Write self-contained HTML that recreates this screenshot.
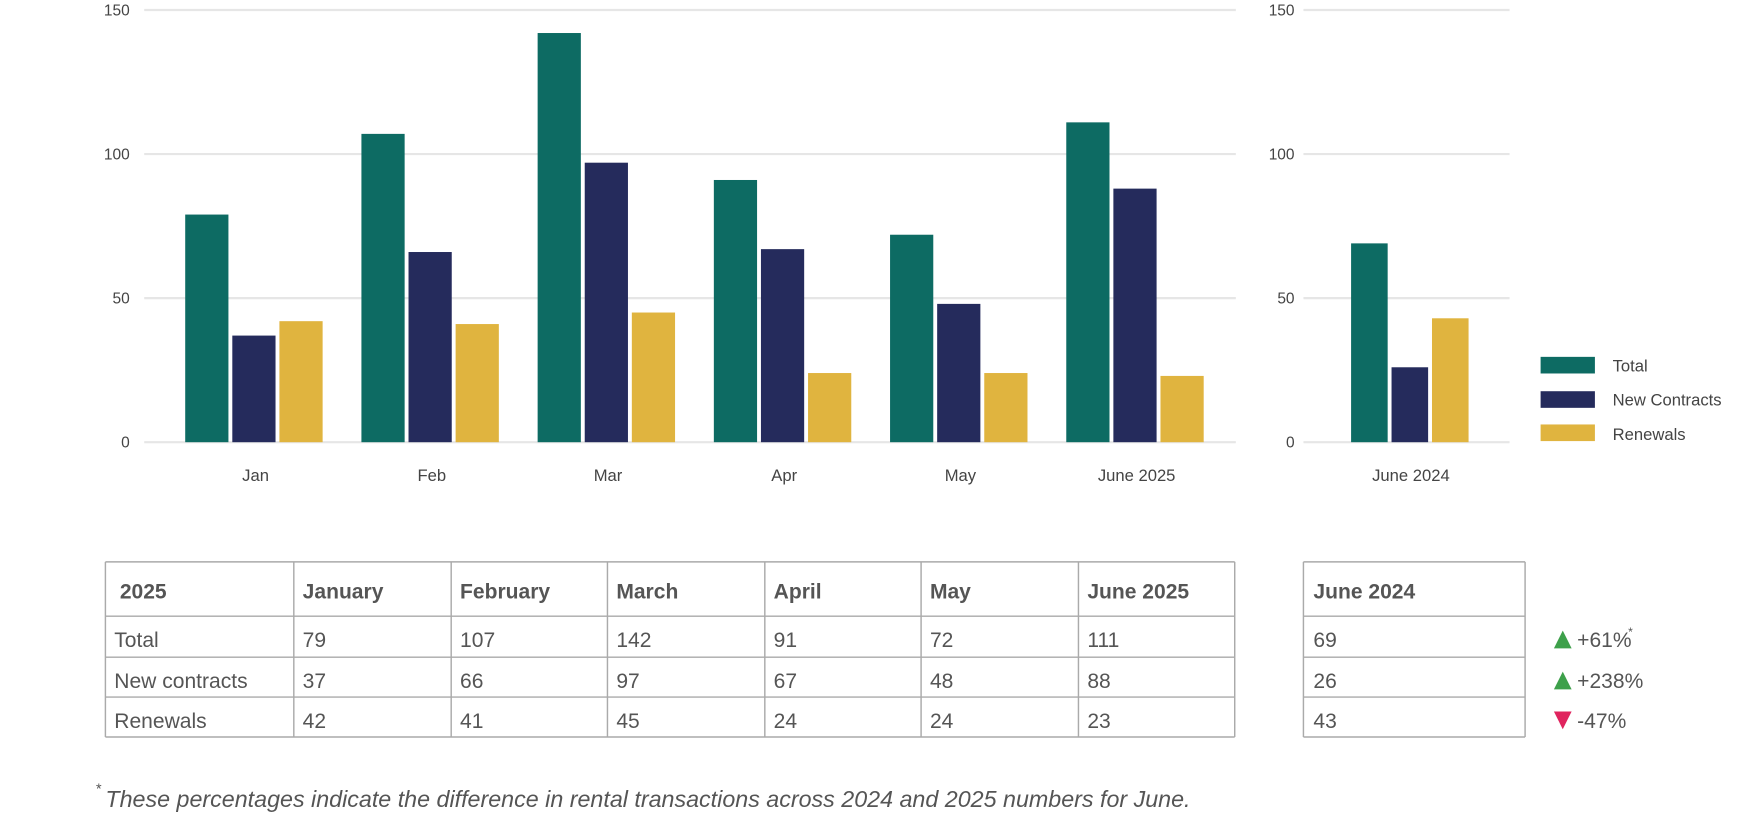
<!DOCTYPE html>
<html><head><meta charset="utf-8"><style>
html,body{margin:0;padding:0;background:#fff;overflow:hidden}
svg{display:block;font-family:"Liberation Sans",sans-serif}
</style></head><body>
<svg id="c" width="1738" height="819" viewBox="0 0 1568 739">
<g id="grid"></g><g id="bars"></g><g id="labels"></g>
<g>
<rect x="1390" y="322" width="49" height="15" fill="#0d6b63"/>
<text x="1455" y="335" font-size="15" fill="#444">Total</text>
<rect x="1390" y="353" width="49" height="15" fill="#252b5c"/>
<text x="1455" y="366" font-size="15" fill="#444">New Contracts</text>
<rect x="1390" y="383" width="49" height="15" fill="#e0b43f"/>
<text x="1455" y="397" font-size="15" fill="#444">Renewals</text>
</g>
<g id="table"></g>
<text x="86" y="716" font-size="13" fill="#555" font-style="italic">*</text>
<text x="95" y="728" font-size="21" fill="#555" font-style="italic">These percentages indicate the difference in rental transactions across 2024 and 2025 numbers for June.</text>
</svg>
<script>
const categories=["Jan","Feb","Mar","Apr","May","June 2025"];
const total=[79,107,142,91,72,111];
const newContracts=[37,66,97,67,48,88];
const renewals=[42,41,45,24,24,23];
const cat2024=["June 2024"];
const total2024=[69];
const new2024=[26];
const renew2024=[43];
const ticks=[0,50,100,150];
const changes=["+61%","+238%","-47%"];
const colors=["#0d6b63","#252b5c","#e0b43f"];
const NS="http://www.w3.org/2000/svg";
function mk(t,a,p,txt){const e=document.createElementNS(NS,t);for(const k in a)e.setAttribute(k,a[k]);if(txt!=null)e.textContent=txt;p.appendChild(e);return e;}
const y=v=>399-2.6*v;
const grid=document.getElementById('grid'),bars=document.getElementById('bars'),labels=document.getElementById('labels');
ticks.forEach(t=>{
 let l=mk('line',{x1:130,x2:1115,y1:y(t),y2:y(t),stroke:'#e6e6e6','stroke-width':2},grid);
 
 
 let tx=mk('text',{x:117,y:y(t)+5,'text-anchor':'end','font-size':14,fill:'#444'},labels,String(t));
 
 
 let l2=mk('line',{x1:1176,x2:1362,y1:y(t),y2:y(t),stroke:'#e6e6e6','stroke-width':2},grid);
 
 
 let tx2=mk('text',{x:1168,y:y(t)+5,'text-anchor':'end','font-size':14,fill:'#444'},labels,String(t));
 
 
});
const xc=i=>228.5+159*i;
categories.forEach((c,i)=>{
 [total[i],newContracts[i],renewals[i]].forEach((v,s)=>{
  const bx=xc(i)-61.5+s*42.5;
  let r=mk('rect',{x:bx,y:y(v),width:39,height:399-y(v),fill:colors[s]},bars);
  
  
 });
 let t=mk('text',{x:xc(i)+2,y:434,'text-anchor':'middle','font-size':15,fill:'#444'},labels,c);
 
 
});
cat2024.forEach((c,i)=>{
 [total2024[i],new2024[i],renew2024[i]].forEach((v,s)=>{
  const bx=1219+s*36.5;
  let r=mk('rect',{x:bx,y:y(v),width:33,height:399-y(v),fill:colors[s]},bars);
  
  
 });
 let t=mk('text',{x:1273,y:434,'text-anchor':'middle','font-size':15,fill:'#444'},labels,c);
 
 
});
// table
const tb=document.getElementById('table');
const cols=[95,265,407,548,690,831,973,1114];
const rows=[507,556,593,629,665];
const heads=["2025","January","February","March","April","May","June 2025"];
const rowNames=["Total","New contracts","Renewals"];
const series=[total,newContracts,renewals];
const s24=[total2024[0],new2024[0],renew2024[0]];
const ln=(x1,y1,x2,y2,n)=>{let l=mk('line',{x1,y1,x2,y2,stroke:'#aaa','stroke-width':1.3},tb);};
rows.forEach((r,i)=>{ln(95,r,1114,r,'table-row-line-'+i);ln(1176,r,1376,r,'table2024-row-line-'+i);});
cols.forEach((c,i)=>ln(c,507,c,665,'table-col-line-'+i));
ln(1176,507,1176,665,'table2024-col-left');ln(1376,507,1376,665,'table2024-col-right');
heads.forEach((h,i)=>{let t=mk('text',{x:cols[i]+(i==0?13:8),y:540,'font-size':19,'font-weight':'bold',fill:'#555'},tb,h);});
let h24=mk('text',{x:1185,y:540,'font-size':19,'font-weight':'bold',fill:'#555'},tb,'June 2024');


rowNames.forEach((rn,j)=>{
 const ty=rows[j+1]+28;
 let t=mk('text',{x:103,y:ty,'font-size':19,fill:'#555'},tb,rn);
 
 
 series[j].forEach((v,i)=>{let c=mk('text',{x:cols[i+1]+8,y:ty,'font-size':19,fill:'#555'},tb,String(v));});
 let c4=mk('text',{x:1185,y:ty,'font-size':19,fill:'#555'},tb,String(s24[j]));
 
 
 const up=changes[j][0]=='+';
 const cy=ty-7;
 let a=mk('polygon',{points:up?`1402,${cy+8} 1418,${cy+8} 1410,${cy-8}`:`1402,${cy-8} 1418,${cy-8} 1410,${cy+8}`,fill:up?'#3da04a':'#e0245e'},tb);
 
 
 let ct=mk('text',{x:1423,y:ty,'font-size':19,fill:'#555'},tb,changes[j]);
 
 
});
let ast=mk('text',{x:1469,y:574,'font-size':11,fill:'#555'},tb,'*');


</script>
</body></html>
